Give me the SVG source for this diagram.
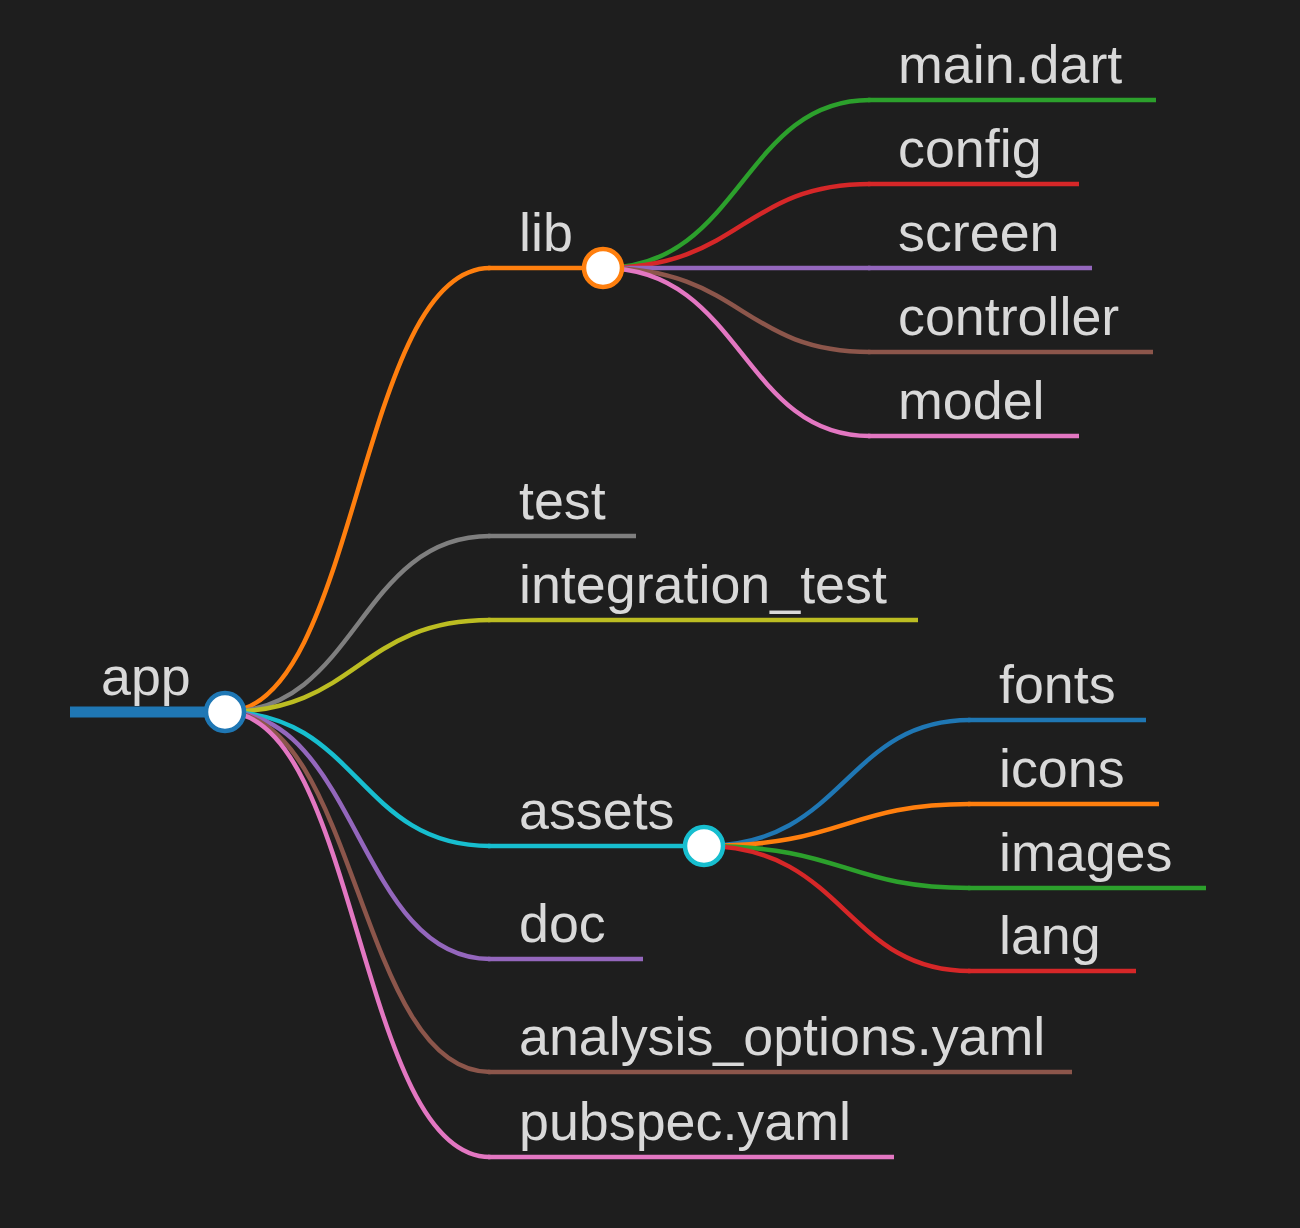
<svg xmlns="http://www.w3.org/2000/svg" width="1300" height="1228" viewBox="0 0 1300 1228">
<style>
.lk{fill:none;stroke-width:4.5;stroke-linecap:round}
.ln{fill:none;stroke-width:4.5}
.t{font-family:"Liberation Sans",Arial,sans-serif;font-size:53.8px;fill:#d9d9d9}
.c{fill:#ffffff;stroke-width:4.5}
</style>
<rect width="1300" height="1228" fill="#1e1e1e"/>
<g id="connectors">
<path class="lk" stroke="#ff7f0e" d="M225,712 C358,712 358,268 490,268"/>
<path class="lk" stroke="#7f7f7f" d="M225,712 C358,712 358,536 490,536"/>
<path class="lk" stroke="#bcbd22" d="M225,712 C358,712 358,620 490,620"/>
<path class="lk" stroke="#17becf" d="M225,712 C358,712 358,846 490,846"/>
<path class="lk" stroke="#9467bd" d="M225,712 C358,712 358,959 490,959"/>
<path class="lk" stroke="#8c564b" d="M225,712 C358,712 358,1072 490,1072"/>
<path class="lk" stroke="#e377c2" d="M225,712 C358,712 358,1157 490,1157"/>
<path class="lk" stroke="#2ca02c" d="M603,268 C742,268 742,100 870,100"/>
<path class="lk" stroke="#d62728" d="M603,268 C742,268 742,184 870,184"/>
<path class="lk" stroke="#9467bd" d="M603,268 C742,268 742,268 870,268"/>
<path class="lk" stroke="#8c564b" d="M603,268 C742,268 742,352 870,352"/>
<path class="lk" stroke="#e377c2" d="M603,268 C742,268 742,436 870,436"/>
<path class="lk" stroke="#1f77b4" d="M704,846 C845,846 845,720 970,720"/>
<path class="lk" stroke="#ff7f0e" d="M704,846 C845,846 845,804 970,804"/>
<path class="lk" stroke="#2ca02c" d="M704,846 C845,846 845,888 970,888"/>
<path class="lk" stroke="#d62728" d="M704,846 C845,846 845,971 970,971"/>
</g>
<g id="node-app">
<line x1="70" y1="712" x2="225" y2="712" stroke="#1f77b4" stroke-width="11"/>
<text class="t" x="101" y="695">app</text>
<circle class="c" cx="225" cy="712" r="19" stroke="#1f77b4"/>
</g>
<g id="node-lib">
<line class="ln" x1="488" y1="268" x2="603" y2="268" stroke="#ff7f0e"/>
<text class="t" x="519" y="251">lib</text>
<circle class="c" cx="603" cy="268" r="19" stroke="#ff7f0e"/>
</g>
<g id="node-main">
<line class="ln" x1="868" y1="100" x2="1156" y2="100" stroke="#2ca02c"/>
<text class="t" x="898" y="83">main.dart</text>
</g>
<g id="node-config">
<line class="ln" x1="868" y1="184" x2="1079" y2="184" stroke="#d62728"/>
<text class="t" x="898" y="167">config</text>
</g>
<g id="node-screen">
<line class="ln" x1="868" y1="268" x2="1092" y2="268" stroke="#9467bd"/>
<text class="t" x="898" y="251">screen</text>
</g>
<g id="node-controller">
<line class="ln" x1="868" y1="352" x2="1153" y2="352" stroke="#8c564b"/>
<text class="t" x="898" y="335">controller</text>
</g>
<g id="node-model">
<line class="ln" x1="868" y1="436" x2="1079" y2="436" stroke="#e377c2"/>
<text class="t" x="898" y="419">model</text>
</g>
<g id="node-test">
<line class="ln" x1="488" y1="536" x2="636" y2="536" stroke="#7f7f7f"/>
<text class="t" x="519" y="519">test</text>
</g>
<g id="node-integration">
<line class="ln" x1="488" y1="620" x2="918" y2="620" stroke="#bcbd22"/>
<text class="t" x="519" y="603">integration_test</text>
</g>
<g id="node-assets">
<line class="ln" x1="488" y1="846" x2="704" y2="846" stroke="#17becf"/>
<text class="t" x="519" y="829">assets</text>
<circle class="c" cx="704" cy="846" r="19" stroke="#17becf"/>
</g>
<g id="node-fonts">
<line class="ln" x1="968" y1="720" x2="1146" y2="720" stroke="#1f77b4"/>
<text class="t" x="999" y="703">fonts</text>
</g>
<g id="node-icons">
<line class="ln" x1="968" y1="804" x2="1159" y2="804" stroke="#ff7f0e"/>
<text class="t" x="999" y="787">icons</text>
</g>
<g id="node-images">
<line class="ln" x1="968" y1="888" x2="1206" y2="888" stroke="#2ca02c"/>
<text class="t" x="999" y="871">images</text>
</g>
<g id="node-lang">
<line class="ln" x1="968" y1="971" x2="1136" y2="971" stroke="#d62728"/>
<text class="t" x="999" y="954">lang</text>
</g>
<g id="node-doc">
<line class="ln" x1="488" y1="959" x2="643" y2="959" stroke="#9467bd"/>
<text class="t" x="519" y="942">doc</text>
</g>
<g id="node-analysis">
<line class="ln" x1="488" y1="1072" x2="1072" y2="1072" stroke="#8c564b"/>
<text class="t" x="519" y="1055">analysis_options.yaml</text>
</g>
<g id="node-pubspec">
<line class="ln" x1="488" y1="1157" x2="894" y2="1157" stroke="#e377c2"/>
<text class="t" x="519" y="1140">pubspec.yaml</text>
</g>
</svg>
